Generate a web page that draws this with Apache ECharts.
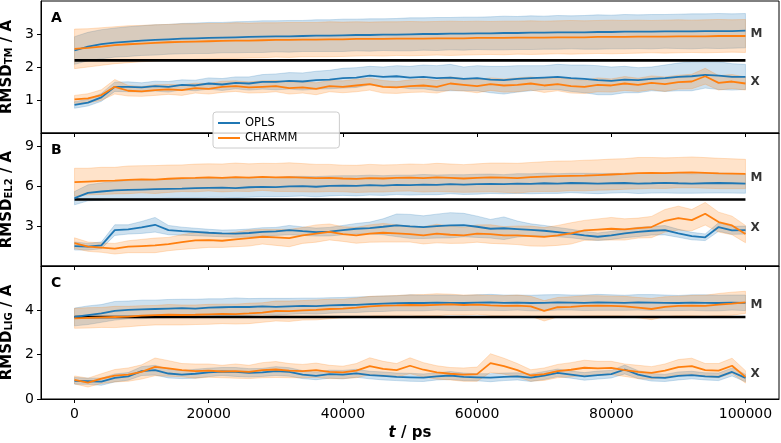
<!DOCTYPE html>
<html><head><meta charset="utf-8">
<script src="https://cdn.jsdelivr.net/npm/echarts@6/dist/echarts.min.js"></script>
<style>html,body{margin:0;padding:0;background:#fff}#c{width:781px;height:443px}</style>
</head><body><div id="c"></div>
<script>
// ---------- data ----------
const T = [0,2000,4000,6000,8000,10000,12000,14000,16000,18000,
 20000,22000,24000,26000,28000,30000,32000,34000,36000,38000,
 40000,42000,44000,46000,48000,50000,52000,54000,56000,58000,
 60000,62000,64000,66000,68000,70000,72000,74000,76000,78000,
 80000,82000,84000,86000,88000,90000,92000,94000,96000,98000,
 100000];
const xTicks = [0,20000,40000,60000,80000,100000];
const yTicksA = [1,2,3], yTicksB = [3,6,9], yTicksC = [0,2,4];
const refLines = [2.2, 5.0, 3.7];
const panelLetters = ['A','B','C'];
const legendNames = ['OPLS','CHARMM'];
const groupLabels = ['M','X'];
const labelValsA = [3.0, 1.55], labelValsB = [6.66, 2.84], labelValsC = [4.25, 1.15];

// Panel A
const A_OPLS_M = [2.50,2.62,2.69,2.74,2.77,2.80,2.82,2.84,2.86,2.87,
 2.88,2.89,2.90,2.91,2.92,2.93,2.93,2.94,2.95,2.95,
 2.96,2.97,2.97,2.98,2.98,2.99,3.00,3.00,3.01,3.01,
 3.02,3.02,3.03,3.03,3.04,3.04,3.05,3.05,3.05,3.06,
 3.06,3.07,3.07,3.07,3.08,3.08,3.08,3.09,3.09,3.09,3.10];
const A_CHARMM_M = [2.55,2.58,2.62,2.66,2.69,2.71,2.73,2.75,2.76,2.77,
 2.78,2.79,2.80,2.80,2.81,2.82,2.82,2.83,2.83,2.84,
 2.84,2.85,2.85,2.85,2.86,2.86,2.86,2.87,2.87,2.87,
 2.88,2.88,2.88,2.89,2.89,2.89,2.90,2.90,2.90,2.91,
 2.91,2.91,2.92,2.92,2.92,2.93,2.93,2.93,2.94,2.94,2.94];
const A_OPLS_M_SD = [0.42,0.43,0.44,0.44,0.45,0.45,0.46,0.45,0.46,0.46,
 0.47,0.46,0.47,0.47,0.48,0.47,0.48,0.47,0.48,0.48,
 0.49,0.48,0.49,0.48,0.49,0.50,0.49,0.50,0.49,0.50,
 0.49,0.50,0.51,0.50,0.51,0.50,0.51,0.50,0.51,0.52,
 0.51,0.52,0.51,0.52,0.51,0.52,0.53,0.52,0.53,0.52,0.52];
const A_CHARMM_M_SD = [0.60,0.58,0.57,0.56,0.56,0.55,0.55,0.54,0.55,0.54,
 0.54,0.53,0.54,0.53,0.53,0.52,0.53,0.52,0.52,0.53,
 0.52,0.52,0.51,0.52,0.51,0.52,0.51,0.51,0.52,0.51,
 0.51,0.50,0.51,0.50,0.51,0.50,0.50,0.51,0.50,0.50,
 0.51,0.50,0.50,0.49,0.50,0.50,0.49,0.50,0.50,0.49,0.50];
const A_OPLS_X = [0.85,0.92,1.08,1.40,1.40,1.38,1.42,1.40,1.46,1.44,
 1.50,1.47,1.52,1.50,1.55,1.55,1.58,1.56,1.60,1.62,
 1.66,1.68,1.74,1.70,1.72,1.68,1.70,1.66,1.68,1.64,
 1.66,1.62,1.60,1.64,1.66,1.68,1.70,1.66,1.64,1.60,
 1.58,1.62,1.60,1.64,1.66,1.70,1.72,1.76,1.74,1.70,1.70];
const A_CHARMM_X = [1.02,1.05,1.15,1.40,1.28,1.26,1.30,1.32,1.30,1.36,
 1.34,1.40,1.42,1.38,1.40,1.42,1.36,1.38,1.34,1.42,
 1.40,1.44,1.48,1.40,1.38,1.42,1.44,1.40,1.50,1.46,
 1.42,1.48,1.44,1.46,1.50,1.44,1.48,1.42,1.40,1.46,
 1.44,1.50,1.46,1.52,1.48,1.54,1.56,1.72,1.52,1.56,1.50];
const A_OPLS_X_SD = [0.10,0.10,0.12,0.14,0.15,0.14,0.15,0.16,0.15,0.16,
 0.17,0.18,0.18,0.20,0.22,0.24,0.25,0.26,0.27,0.28,
 0.30,0.30,0.28,0.30,0.32,0.34,0.36,0.38,0.40,0.36,
 0.38,0.40,0.42,0.40,0.38,0.36,0.38,0.40,0.42,0.44,
 0.42,0.40,0.38,0.36,0.40,0.42,0.44,0.40,0.42,0.40,0.38];
const A_CHARMM_X_SD = [0.12,0.14,0.16,0.22,0.16,0.15,0.16,0.15,0.16,0.15,
 0.16,0.17,0.16,0.17,0.18,0.17,0.18,0.17,0.18,0.17,
 0.18,0.19,0.18,0.19,0.18,0.19,0.20,0.19,0.20,0.19,
 0.20,0.19,0.20,0.21,0.20,0.21,0.20,0.21,0.20,0.21,
 0.20,0.21,0.20,0.21,0.22,0.21,0.22,0.24,0.22,0.21,0.20];

// Panel B
const B_OPLS_M = [5.10,5.50,5.60,5.68,5.72,5.75,5.78,5.80,5.82,5.85,
 5.88,5.90,5.86,5.92,5.95,5.93,5.98,6.00,5.96,6.02,
 6.05,6.03,6.08,6.05,6.10,6.08,6.12,6.10,6.15,6.12,
 6.15,6.18,6.15,6.20,6.18,6.22,6.20,6.24,6.22,6.20,
 6.22,6.24,6.20,6.22,6.25,6.22,6.20,6.22,6.24,6.22,6.20];
const B_CHARMM_M = [6.30,6.35,6.40,6.42,6.48,6.52,6.50,6.56,6.60,6.62,
 6.66,6.62,6.68,6.64,6.70,6.66,6.68,6.64,6.60,6.62,
 6.58,6.55,6.60,6.58,6.62,6.65,6.60,6.66,6.62,6.58,
 6.62,6.66,6.64,6.60,6.68,6.72,6.75,6.78,6.80,6.84,
 6.88,6.92,6.98,7.00,6.98,7.02,7.04,7.00,6.96,6.94,6.92];
const B_OPLS_M_SD = [0.50,0.60,0.65,0.68,0.70,0.70,0.72,0.70,0.72,0.74,
 0.72,0.74,0.72,0.75,0.74,0.72,0.75,0.74,0.76,0.75,
 0.74,0.76,0.75,0.74,0.73,0.75,0.76,0.74,0.72,0.74,
 0.75,0.73,0.72,0.74,0.75,0.76,0.74,0.73,0.75,0.76,
 0.74,0.73,0.75,0.74,0.76,0.75,0.73,0.74,0.75,0.74,0.73];
const B_CHARMM_M_SD = [1.05,1.00,1.02,1.00,1.04,1.02,1.05,1.03,1.00,1.04,
 1.02,1.05,1.06,1.04,1.02,1.05,1.08,1.06,1.04,1.02,
 1.00,1.02,1.04,1.02,1.00,1.02,1.04,1.06,1.05,1.04,
 1.06,1.08,1.10,1.12,1.10,1.12,1.14,1.12,1.15,1.14,
 1.16,1.15,1.18,1.16,1.15,1.14,1.16,1.15,1.14,1.12,1.10];
const B_OPLS_X = [1.50,1.45,1.55,2.70,2.75,2.90,3.10,2.70,2.62,2.56,
 2.50,2.45,2.44,2.48,2.56,2.60,2.70,2.62,2.55,2.58,
 2.70,2.80,2.85,2.95,3.06,2.98,2.92,3.00,3.06,3.08,
 2.95,2.80,2.84,2.78,2.72,2.65,2.55,2.44,2.30,2.20,
 2.30,2.45,2.56,2.65,2.69,2.46,2.25,2.16,2.93,2.68,2.70];
const B_CHARMM_X = [1.72,1.45,1.38,1.30,1.45,1.50,1.55,1.65,1.80,1.92,
 1.95,1.90,2.00,2.10,2.20,2.15,2.10,2.30,2.44,2.56,
 2.40,2.31,2.44,2.50,2.45,2.40,2.31,2.44,2.35,2.31,
 2.44,2.40,2.31,2.31,2.25,2.19,2.30,2.45,2.68,2.74,
 2.80,2.75,2.85,2.93,3.40,3.60,3.45,3.93,3.30,3.05,2.40];
const B_OPLS_X_SD = [0.30,0.25,0.25,0.40,0.35,0.45,0.55,0.35,0.30,0.28,
 0.26,0.25,0.28,0.30,0.32,0.30,0.35,0.32,0.30,0.32,
 0.35,0.40,0.45,0.60,0.85,0.90,0.85,0.90,0.95,0.88,
 0.80,0.70,0.85,0.60,0.45,0.40,0.35,0.32,0.30,0.28,
 0.30,0.32,0.35,0.32,0.35,0.30,0.28,0.25,0.32,0.30,0.30];
const B_CHARMM_X_SD = [0.40,0.35,0.35,0.40,0.45,0.50,0.55,0.50,0.55,0.60,
 0.55,0.50,0.55,0.60,0.55,0.60,0.65,0.60,0.65,0.60,
 0.55,0.60,0.65,0.70,0.65,0.60,0.65,0.70,0.65,0.60,
 0.65,0.70,0.65,0.70,0.75,0.70,0.75,0.80,0.75,0.80,
 0.85,0.80,0.75,0.80,0.85,0.90,0.80,0.85,0.75,0.70,0.65];

// Panel C
const C_OPLS_M = [3.70,3.78,3.86,3.98,4.02,4.04,4.06,4.08,4.10,4.08,
 4.12,4.14,4.16,4.15,4.18,4.16,4.18,4.20,4.19,4.22,
 4.24,4.25,4.28,4.30,4.32,4.34,4.33,4.35,4.34,4.33,
 4.35,4.36,4.34,4.35,4.33,4.34,4.36,4.35,4.34,4.36,
 4.35,4.34,4.36,4.35,4.34,4.33,4.35,4.34,4.33,4.35,4.34];
const C_CHARMM_M = [3.64,3.66,3.68,3.70,3.72,3.76,3.78,3.80,3.79,3.80,
 3.82,3.84,3.83,3.86,3.90,3.97,3.96,4.00,4.02,4.06,
 4.08,4.12,4.18,4.21,4.22,4.24,4.23,4.25,4.27,4.24,
 4.26,4.22,4.20,4.21,4.18,3.98,4.14,4.16,4.20,4.21,
 4.20,4.18,4.12,4.06,4.16,4.20,4.21,4.20,4.26,4.30,4.36];
const C_OPLS_M_SD = [0.40,0.42,0.40,0.42,0.40,0.42,0.40,0.41,0.40,0.42,
 0.40,0.38,0.40,0.38,0.36,0.38,0.36,0.35,0.36,0.35,
 0.34,0.35,0.34,0.35,0.34,0.36,0.35,0.34,0.35,0.34,
 0.35,0.36,0.35,0.34,0.35,0.36,0.35,0.34,0.35,0.36,
 0.35,0.34,0.35,0.36,0.35,0.34,0.35,0.36,0.35,0.34,0.35];
const C_CHARMM_M_SD = [0.45,0.46,0.45,0.48,0.46,0.45,0.44,0.46,0.45,0.44,
 0.45,0.44,0.45,0.46,0.44,0.45,0.46,0.44,0.45,0.44,
 0.42,0.44,0.45,0.44,0.45,0.46,0.48,0.50,0.46,0.45,
 0.44,0.45,0.46,0.48,0.45,0.46,0.44,0.45,0.46,0.45,
 0.44,0.45,0.46,0.48,0.45,0.44,0.46,0.48,0.50,0.52,0.50];
const C_OPLS_X = [0.82,0.80,0.78,0.95,1.02,1.26,1.30,1.15,1.10,1.14,
 1.20,1.24,1.22,1.18,1.20,1.26,1.22,1.10,1.04,1.12,
 1.10,1.16,1.08,1.04,1.00,0.98,0.96,1.02,1.06,1.00,
 0.98,0.96,1.00,1.02,0.96,1.06,1.18,1.10,1.02,1.08,
 1.12,1.33,1.10,0.98,0.95,1.04,1.08,1.02,1.00,1.22,0.95];
const C_CHARMM_X = [0.86,0.74,0.92,1.05,1.10,1.22,1.45,1.38,1.30,1.26,
 1.28,1.24,1.26,1.22,1.30,1.33,1.28,1.26,1.30,1.22,
 1.20,1.28,1.48,1.36,1.30,1.50,1.32,1.20,1.14,1.10,
 1.12,1.62,1.48,1.30,1.06,1.12,1.26,1.32,1.41,1.38,
 1.40,1.30,1.22,1.18,1.28,1.44,1.48,1.30,1.28,1.50,1.00];
const C_OPLS_X_SD = [0.15,0.14,0.16,0.18,0.17,0.20,0.22,0.20,0.18,0.20,
 0.19,0.18,0.20,0.19,0.18,0.20,0.19,0.18,0.17,0.18,
 0.19,0.18,0.17,0.18,0.17,0.18,0.17,0.16,0.18,0.17,
 0.16,0.18,0.17,0.16,0.17,0.18,0.17,0.16,0.17,0.18,
 0.17,0.20,0.18,0.17,0.16,0.18,0.17,0.16,0.17,0.18,0.17];
const C_CHARMM_X_SD = [0.18,0.20,0.22,0.28,0.30,0.32,0.40,0.35,0.30,0.32,
 0.30,0.28,0.32,0.30,0.34,0.36,0.32,0.30,0.32,0.30,
 0.28,0.32,0.38,0.34,0.30,0.36,0.32,0.30,0.28,0.30,
 0.32,0.42,0.36,0.30,0.26,0.28,0.30,0.32,0.34,0.32,
 0.30,0.28,0.30,0.28,0.30,0.34,0.36,0.30,0.32,0.34,0.28];

// ---------- chart ----------
const BLUE = '#1f77b4', ORANGE = '#ff7f0e';
const FILL = {[BLUE]: 'rgba(31,119,180,0.22)', [ORANGE]: 'rgba(255,127,14,0.22)'};
const EDGE = {[BLUE]: 'rgba(31,119,180,0.22)', [ORANGE]: 'rgba(255,127,14,0.22)'};
const FONT = 'DejaVu Sans';

const panels = [
  {yMin:0, yMax:4, ticks:yTicksA, sub:'TM', labels:labelValsA,
   sets:[[A_OPLS_M,A_OPLS_M_SD,BLUE,'OPLS'],[A_CHARMM_M,A_CHARMM_M_SD,ORANGE,'CHARMM'],
         [A_OPLS_X,A_OPLS_X_SD,BLUE,'OPLS'],[A_CHARMM_X,A_CHARMM_X_SD,ORANGE,'CHARMM']]},
  {yMin:0, yMax:10, ticks:yTicksB, sub:'EL2', labels:labelValsB,
   sets:[[B_OPLS_M,B_OPLS_M_SD,BLUE,'OPLS'],[B_CHARMM_M,B_CHARMM_M_SD,ORANGE,'CHARMM'],
         [B_OPLS_X,B_OPLS_X_SD,BLUE,'OPLS'],[B_CHARMM_X,B_CHARMM_X_SD,ORANGE,'CHARMM']]},
  {yMin:0, yMax:6, ticks:yTicksC, sub:'LIG', labels:labelValsC,
   sets:[[C_OPLS_M,C_OPLS_M_SD,BLUE,'OPLS'],[C_CHARMM_M,C_CHARMM_M_SD,ORANGE,'CHARMM'],
         [C_OPLS_X,C_OPLS_X_SD,BLUE,'OPLS'],[C_CHARMM_X,C_CHARMM_X_SD,ORANGE,'CHARMM']]}
];
const gridTops = [1, 133, 266];
const gridHeights = [132, 133, 133];

const grids = [], xAxes = [], yAxes = [], series = [], graphics = [];
panels.forEach((p, g) => {
  grids.push({left:41, right:2, top:gridTops[g], height:gridHeights[g], show:true,
              outerBoundsMode:'none', containLabel:false,
              borderColor:'#000', borderWidth:1, backgroundColor:'transparent'});
  const isLast = g === panels.length - 1;
  xAxes.push({gridIndex:g, type:'value', min:-5000, max:105000, position:'bottom',
    axisLine:{show:true, onZero:false, lineStyle:{color:'#000', width:1}},
    axisTick:{show:true, length:4, lineStyle:{color:'#000', width:1}, customValues:xTicks},
    axisLabel:{show:isLast, customValues:xTicks, formatter:v => String(v),
               color:'#000', fontSize:14, fontFamily:FONT, margin:8},
    splitLine:{show:false},
    name: isLast ? '{i|t}{b| / ps}' : '', nameLocation:'middle', nameGap:27,
    nameTextStyle:{rich:{
      i:{fontSize:15, fontWeight:'bold', fontStyle:'italic', fontFamily:FONT, color:'#000'},
      b:{fontSize:15, fontWeight:'bold', fontFamily:FONT, color:'#000'}}}
  });
  yAxes.push({gridIndex:g, type:'value', min:p.yMin, max:p.yMax, position:'left',
    axisLine:{show:true, onZero:false, lineStyle:{color:'#000', width:1}},
    axisTick:{show:true, length:4, lineStyle:{color:'#000', width:1}, customValues:p.ticks},
    axisLabel:{customValues:p.ticks, color:'#000', fontSize:14, fontFamily:FONT, margin:7},
    splitLine:{show:false},
    name:'{a|RMSD}{s|' + p.sub + '}{a| / Å}', nameLocation:'middle', nameRotate:90, nameGap:18,
    nameTextStyle:{rich:{
      a:{fontSize:15, fontWeight:'bold', fontFamily:FONT, color:'#000', lineHeight:20, verticalAlign:'bottom'},
      s:{fontSize:10, fontWeight:'bold', fontFamily:FONT, color:'#000', lineHeight:12, verticalAlign:'bottom'}}}
  });
  // bands
  p.sets.forEach(([mean, sd, color]) => {
    series.push({type:'custom', xAxisIndex:g, yAxisIndex:g, silent:true, clip:true, z:1,
      animation:false, data:[[T[0], mean[0]]],
      renderItem:(params, api) => {
        const pts = [];
        for (let i = 0; i < T.length; i++) pts.push(api.coord([T[i], mean[i] + sd[i]]));
        for (let i = T.length - 1; i >= 0; i--) pts.push(api.coord([T[i], mean[i] - sd[i]]));
        return {type:'polygon', shape:{points:pts},
                style:{fill:FILL[color], stroke:EDGE[color], lineWidth:1}};
      }});
  });
  // reference line
  series.push({type:'line', xAxisIndex:g, yAxisIndex:g, silent:true, z:2, animation:false,
    showSymbol:false, data:[[T[0], refLines[g]], [T[T.length-1], refLines[g]]],
    lineStyle:{color:'#000', width:2.6}});
  // mean lines
  p.sets.forEach(([mean, sd, color, name]) => {
    series.push({type:'line', name:name, xAxisIndex:g, yAxisIndex:g, z:3, animation:false,
      showSymbol:false, color:color, data:T.map((t, i) => [t, mean[i]]),
      lineStyle:{color:color, width:1.8}});
  });
  // M / X labels
  series.push({type:'scatter', xAxisIndex:g, yAxisIndex:g, silent:true, symbolSize:0, z:5,
    animation:false,
    data:p.labels.map((v, k) => ({value:[T[T.length-1], v], label:{formatter:groupLabels[k]}})),
    label:{show:true, position:'right', distance:5, fontSize:12, fontWeight:'bold',
           fontFamily:FONT, color:'#000'}});
  graphics.push({type:'text', left:51, top:gridTops[g] + 10,
    style:{text:panelLetters[g], font:'bold 14px "DejaVu Sans"', fill:'#000'}});
});

const chart = echarts.init(document.getElementById('c'), null, {renderer:'canvas'});
chart.setOption({
  animation:false,
  backgroundColor:'#fff',
  textStyle:{fontFamily:FONT},
  grid:grids, xAxis:xAxes, yAxis:yAxes, series:series, graphic:graphics,
  legend:{data:legendNames.map(n => ({name:n})), orient:'vertical', left:213, top:112,
    padding:[5, 42, 4, 5], itemGap:3, itemWidth:22, itemHeight:2, icon:'rect',
    backgroundColor:'rgba(255,255,255,0.85)', borderColor:'#cccccc', borderWidth:1, borderRadius:3,
    textStyle:{fontSize:11.5, fontFamily:FONT, color:'#000'}, z:10}
});
</script></body></html>
